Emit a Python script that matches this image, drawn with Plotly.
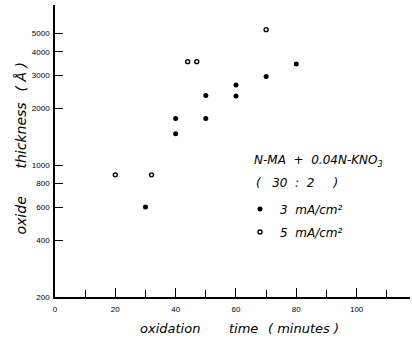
import math
import plotly.graph_objects as go

# Data
t_3mA = [30, 40, 40, 50, 50, 60, 60, 70, 80]
thk_3mA = [600, 1770, 1470, 2350, 1770, 2670, 2330, 2960, 3450]
t_5mA = [20, 32, 44, 47, 70]
thk_5mA = [890, 890, 3550, 3550, 5250]

y_tickvals = [200, 400, 600, 800, 1000, 2000, 3000, 4000, 5000]
y_ticktext = ["200", "400", "600", "800", "1000", "2000", "3000", "4000", "5000"]
x_tickvals = [0, 20, 40, 60, 80, 100]

TICKFONT = "Liberation Sans"
TXTFONT = "DejaVu Sans"

# plot area in pixels: left 55, right 410, top 5, bottom 297
L, R, T, B = 55, 410, 5, 297
def px(xp):
    return (xp - L) / (R - L)
def py(yp):
    return (B - yp) / (B - T)

fig = go.Figure()
fig.add_trace(go.Scatter(
    x=t_3mA, y=thk_3mA, mode="markers", name="<i>3  mA/cm²</i>",
    legendgroup="a",
    marker=dict(symbol="circle", size=5, color="black"),
))
fig.add_trace(go.Scatter(
    x=t_5mA, y=thk_5mA, mode="markers", name="<i>5  mA/cm²</i>",
    legendgroup="b",
    marker=dict(symbol="circle-open", size=4, color="black", line=dict(width=1.4, color="black")),
))

fig.update_layout(
    width=412, height=339,
    margin=dict(l=L, r=412 - R, t=T, b=339 - B),
    paper_bgcolor="white", plot_bgcolor="white",
    font=dict(family=TXTFONT, color="black"),
    showlegend=True,
    legend=dict(
        x=px(240), y=py(220.5), xanchor="left", yanchor="middle",
        bgcolor="rgba(0,0,0,0)",
        font=dict(size=12, family=TXTFONT, color="black"),
        traceorder="grouped",
        tracegroupgap=4,
        itemwidth=30,
    ),
    xaxis=dict(
        range=[0, 117.7], tickmode="array", tickvals=x_tickvals,
        ticks="inside", ticklen=9, tickwidth=1.2, tickcolor="black",
        showline=True, linecolor="black", linewidth=1.5,
        showgrid=False, zeroline=False,
        tickfont=dict(size=8, family=TICKFONT, color="black"),
        ticklabelstandoff=4,
        minor=dict(dtick=10, tick0=0, ticks="inside", ticklen=7, tickwidth=1.2,
                   tickcolor="black", showgrid=False),
    ),
    yaxis=dict(
        type="log", range=[math.log10(200), 3.851],
        tickmode="array", tickvals=y_tickvals, ticktext=y_ticktext,
        ticks="inside", ticklen=8, tickwidth=1.2, tickcolor="black",
        showline=True, linecolor="black", linewidth=1.5,
        showgrid=False, zeroline=False,
        tickfont=dict(size=8, family=TICKFONT, color="black"),
        ticklabelstandoff=2,
    ),
)

def ann(text, x, y, size=13, angle=0, anchor="center"):
    fig.add_annotation(
        text=text, xref="paper", yref="paper", x=x, y=y,
        xanchor=anchor, yanchor="middle", textangle=angle, showarrow=False,
        font=dict(size=size, family=TXTFONT, color="black"),
    )

# x-axis title
ann("<i>oxidation</i>", px(170), py(328))
ann("<i>time</i>", px(243), py(328))
ann("<i>( minutes )</i>", px(303), py(328))
# y-axis title
ann("<i>oxide</i>", px(20.5), py(216), size=14, angle=-90)
ann("<i>thickness</i>", px(20.5), py(136), size=14, angle=-90)
ann("<i>( Å )</i>", px(20.5), py(77), size=14, angle=-90)
# legend header
ann("<i>N-MA  +  0.04N-KNO<sub>3</sub></i>", px(252), py(161), size=12, anchor="left")
ann("<i>(   30  :  2     )</i>", px(254), py(183), size=12, anchor="left")

fig.write_html("out.html")
